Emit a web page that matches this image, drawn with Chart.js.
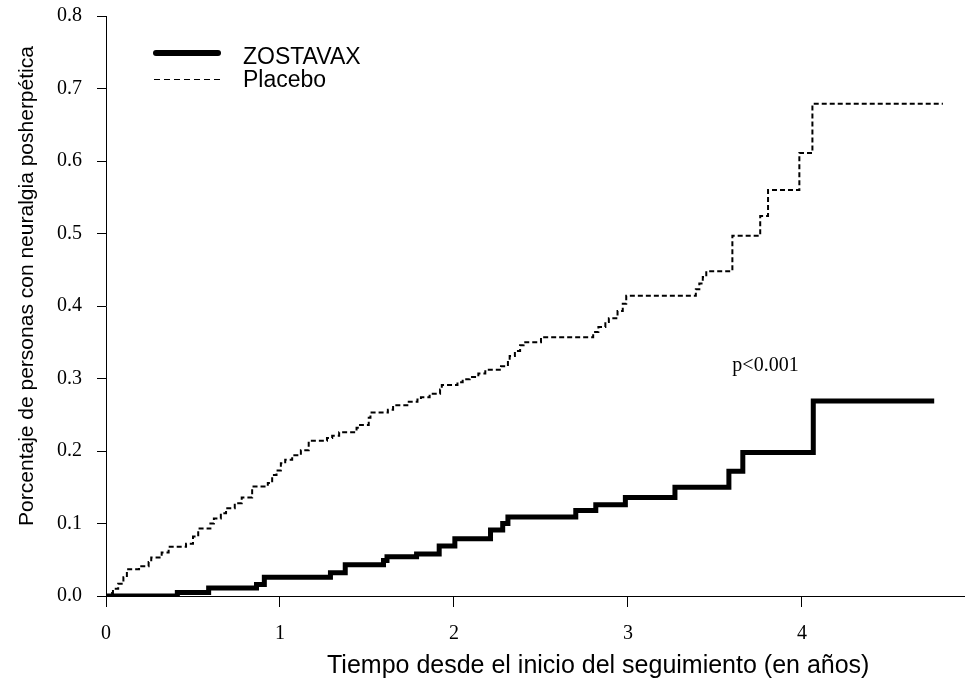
<!DOCTYPE html>
<html>
<head>
<meta charset="utf-8">
<script src="https://cdn.jsdelivr.net/npm/chart.js@4.4.1/dist/chart.umd.min.js"></script>
<style>
  html, body { margin: 0; padding: 0; background: #fff; }
</style>
</head>
<body>
<canvas id="chartCanvas" width="965" height="680"></canvas>
<script>
// curvas escalonadas: tiempo (años) y proporción acumulada tras cada evento
const zostavaxTime = [0, 0.41, 0.59, 0.865, 0.91, 1.29, 1.375, 1.595, 1.615, 1.785, 1.915, 2.005,
  2.21, 2.28, 2.31, 2.70, 2.815, 2.985, 3.27, 3.58, 3.66, 4.065, 4.76];
const zostavaxValue = [0, 0.005, 0.011, 0.016, 0.026, 0.032, 0.043, 0.049, 0.054, 0.058, 0.069, 0.079,
  0.091, 0.100, 0.109, 0.118, 0.126, 0.136, 0.150, 0.172, 0.198, 0.269, 0.269];

const placeboTime = [0, 0.02, 0.04, 0.07, 0.10, 0.12, 0.19, 0.245, 0.26, 0.32, 0.36, 0.46, 0.50, 0.53,
  0.60, 0.62, 0.66, 0.69, 0.74, 0.78, 0.84, 0.93, 0.955, 0.98, 1.005, 1.03, 1.07, 1.12, 1.165, 1.27,
  1.30, 1.34, 1.44, 1.46, 1.51, 1.52, 1.62, 1.65, 1.74, 1.79, 1.81, 1.86, 1.92, 1.93, 2.02, 2.05,
  2.09, 2.14, 2.18, 2.27, 2.31, 2.32, 2.35, 2.38, 2.40, 2.50, 2.80, 2.83, 2.87, 2.89, 2.94, 2.97,
  2.99, 3.39, 3.41, 3.43, 3.45, 3.60, 3.76, 3.805, 3.985, 4.06, 4.81];
const placeboValue = [0, 0.004, 0.010, 0.017, 0.026, 0.037, 0.041, 0.047, 0.053, 0.060, 0.068, 0.072,
  0.082, 0.093, 0.100, 0.107, 0.114, 0.121, 0.128, 0.136, 0.151, 0.156, 0.167, 0.173, 0.183, 0.188,
  0.194, 0.201, 0.214, 0.218, 0.221, 0.226, 0.232, 0.236, 0.246, 0.253, 0.257, 0.263, 0.268, 0.271,
  0.274, 0.279, 0.285, 0.291, 0.295, 0.299, 0.302, 0.307, 0.312, 0.317, 0.325, 0.331, 0.338, 0.346,
  0.350, 0.357, 0.364, 0.371, 0.378, 0.383, 0.393, 0.403, 0.414, 0.423, 0.431, 0.440, 0.448, 0.497,
  0.524, 0.560, 0.611, 0.679, 0.679];

const seriesNames = ["ZOSTAVAX", "Placebo"];
const xTicks = [0, 1, 2, 3, 4];
const yTicks = [0, 0.1, 0.2, 0.3, 0.4, 0.5, 0.6, 0.7, 0.8];
const xTitle = "Tiempo desde el inicio del seguimiento (en años)";
const yTitle = "Porcentaje de personas con neuralgia posherpética";
const pValueText = "p<0.001";

const toPoints = (times, values) => times.map((t, i) => ({ x: t, y: values[i] }));

// leyenda, valor p y títulos de ejes dibujados a mano
const extrasPlugin = {
  id: "extras",
  afterDraw(chart) {
    const ctx = chart.ctx;
    const sx = chart.scales.x;
    const sy = chart.scales.y;
    const ds = chart.data.datasets;
    ctx.save();
    ctx.fillStyle = "#000";

    // leyenda
    ctx.strokeStyle = "#000";
    ctx.lineWidth = 6;
    ctx.lineCap = "round";
    ctx.beginPath();
    ctx.moveTo(156, 53);
    ctx.lineTo(218, 53);
    ctx.stroke();
    ctx.lineWidth = 1;
    ctx.lineCap = "butt";
    ctx.setLineDash([6, 4]);
    ctx.beginPath();
    ctx.moveTo(154, 79.5);
    ctx.lineTo(220, 79.5);
    ctx.stroke();
    ctx.setLineDash([]);
    ctx.font = "23px 'Liberation Sans', Arial, sans-serif";
    ctx.textAlign = "left";
    ctx.textBaseline = "alphabetic";
    ctx.fillText(ds[0].label, 243, 64);
    ctx.fillText(ds[1].label, 243, 87);

    // valor p
    ctx.font = "20px 'Liberation Serif', 'Times New Roman', serif";
    ctx.textBaseline = "middle";
    ctx.fillText(pValueText, sx.getPixelForValue(3.6), sy.getPixelForValue(0.318));

    // título eje x
    ctx.font = "25px 'Liberation Sans', Arial, sans-serif";
    ctx.textBaseline = "alphabetic";
    ctx.fillText(xTitle, 327, 673);

    // título eje y
    ctx.translate(33, 286);
    ctx.rotate(-Math.PI / 2);
    ctx.font = "21px 'Liberation Sans', Arial, sans-serif";
    ctx.textAlign = "center";
    ctx.fillText(yTitle, 0, 0);
    ctx.restore();
  }
};

const ctx = document.getElementById("chartCanvas").getContext("2d");

new Chart(ctx, {
  type: "line",
  data: {
    datasets: [
      {
        label: seriesNames[0],
        data: toPoints(zostavaxTime, zostavaxValue),
        stepped: true,
        borderColor: "#000",
        borderWidth: 5,
        borderJoinStyle: "miter",
        pointRadius: 0,
        fill: false
      },
      {
        label: seriesNames[1],
        data: toPoints(placeboTime, placeboValue),
        stepped: true,
        borderColor: "#000",
        borderWidth: 2,
        borderDash: [5, 3],
        pointRadius: 0,
        fill: false
      }
    ]
  },
  options: {
    responsive: false,
    animation: false,
    layout: { padding: { top: 16, right: 0, bottom: 0, left: 0 } },
    plugins: {
      legend: { display: false },
      tooltip: { enabled: false }
    },
    scales: {
      x: {
        type: "linear",
        min: 0,
        max: 4.937,
        afterBuildTicks: (scale) => { scale.ticks = xTicks.map((v) => ({ value: v })); },
        afterFit: (scale) => {
          scale.height = 84;
          scale.paddingLeft = 0;
          scale.paddingRight = 0;
        },
        ticks: {
          color: "#000",
          padding: 15,
          maxRotation: 0,
          font: { family: "'Liberation Serif', 'Times New Roman', serif", size: 20 },
          callback: (v) => String(v)
        },
        grid: { drawOnChartArea: false, drawTicks: true, tickLength: 11, color: "#000" },
        border: { display: true, color: "#000", width: 1 }
      },
      y: {
        type: "linear",
        min: 0,
        max: 0.8,
        afterBuildTicks: (scale) => { scale.ticks = yTicks.map((v) => ({ value: v })); },
        afterFit: (scale) => {
          scale.width = 106;
          scale.paddingTop = 0;
          scale.paddingBottom = 0;
        },
        ticks: {
          color: "#000",
          padding: 15,
          font: { family: "'Liberation Serif', 'Times New Roman', serif", size: 20 },
          callback: (v) => Number(v).toFixed(1)
        },
        grid: { drawOnChartArea: false, drawTicks: true, tickLength: 9, color: "#000" },
        border: { display: true, color: "#000", width: 1 }
      }
    }
  },
  plugins: [extrasPlugin]
});
</script>
</body>
</html>
